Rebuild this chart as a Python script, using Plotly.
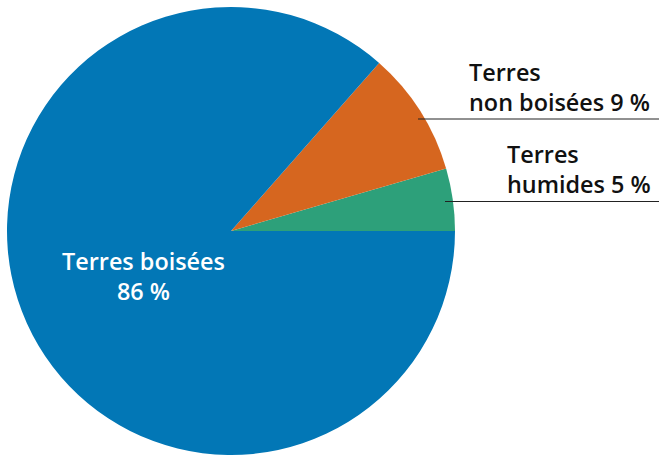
import plotly.graph_objects as go

categories = ["Terres humides", "Terres non boisées", "Terres boisées"]
values = [4.5, 9.0, 86.5]
labels_pct = ["5 %", "9 %", "86 %"]
colors = ["#2DA07A", "#D6661F", "#0277B6"]

W, H = 659, 457

fig = go.Figure(go.Pie(
    labels=categories,
    values=values,
    sort=False,
    direction="counterclockwise",
    rotation=73.8,
    marker=dict(colors=colors, line=dict(width=0)),
    textinfo="none",
    hoverinfo="label+percent",
    showlegend=False,
    domain=dict(x=[7 / W, 455 / W], y=[2 / H, 450 / H]),
))

font_name = "Open Sans"
fs = 23.4
fig.add_annotation(
    x=143 / W, y=1 - 276 / H, xref="paper", yref="paper",
    text=f"{categories[2]}<br>{labels_pct[2]}", showarrow=False,
    font=dict(family=font_name, size=fs, color="white", weight=600),
    xanchor="center", yanchor="middle", align="center",
)
fig.add_annotation(
    x=467 / W, y=1 - 120 / H, xref="paper", yref="paper",
    text=f"Terres<br>non boisées {labels_pct[1]}", showarrow=False,
    font=dict(family=font_name, size=fs, color="#111111", weight=600),
    xanchor="left", yanchor="bottom", align="left",
)
fig.add_annotation(
    x=505 / W, y=1 - 202 / H, xref="paper", yref="paper",
    text=f"Terres<br>humides {labels_pct[0]}", showarrow=False,
    font=dict(family=font_name, size=fs, color="#111111", weight=600),
    xanchor="left", yanchor="bottom", align="left",
)
fig.add_shape(type="line", xref="paper", yref="paper",
              x0=418 / W, x1=1, y0=1 - 119 / H, y1=1 - 119 / H,
              line=dict(color="#222222", width=1))
fig.add_shape(type="line", xref="paper", yref="paper",
              x0=445 / W, x1=1, y0=1 - 201.5 / H, y1=1 - 201.5 / H,
              line=dict(color="#222222", width=1))

fig.update_layout(
    width=W, height=H,
    margin=dict(l=0, r=0, t=0, b=0),
    paper_bgcolor="white", plot_bgcolor="white",
)
fig.write_html("out.html", config={"displayModeBar": False},
               post_script="document.body.style.margin='0';")
